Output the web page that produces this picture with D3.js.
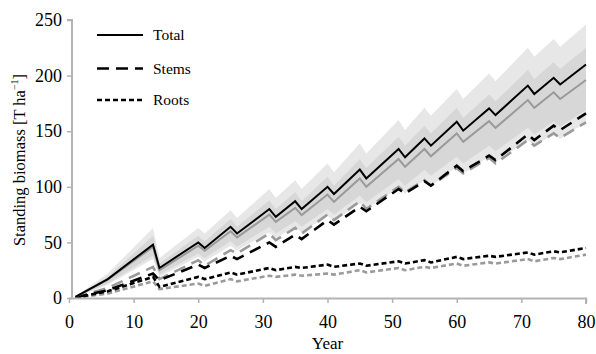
<!DOCTYPE html>
<html>
<head>
<meta charset="utf-8">
<script src="https://cdn.jsdelivr.net/npm/d3@7"></script>
<style>
  body { margin: 0; background: #fff; }
  text { font-family: "Liberation Serif", "Times New Roman", serif; }
</style>
</head>
<body>
<svg id="chart" width="596" height="354"></svg>
<script>
const years = [1, 6, 13, 14, 20, 21, 25, 26, 31, 32, 35, 36, 40, 41, 45, 46, 51, 52, 55, 56, 60, 61, 65, 66, 71, 72, 75, 76, 80];

const totalBlack = [1, 17, 48, 27, 50, 45, 64, 58, 80, 73, 87, 80, 100, 93.5, 115.5, 107.5, 134, 126.5, 143.5, 137, 158.5, 150.5, 170.5, 164.5, 191, 183.5, 198, 192, 210];
const totalGray = [1, 16.5, 46, 25, 47, 42.5, 60, 54.5, 75, 68.5, 81, 74.5, 93, 86.5, 107.5, 100, 125, 118, 134, 127.5, 148, 140.5, 159, 153, 178, 171, 185, 179, 196];
const stemsBlack = [0.5, 7, 22, 16, 30, 27, 38, 35, 50, 46, 57, 53, 70, 66, 82, 78, 98, 94, 105, 101, 119, 114, 128, 124, 147, 142, 155, 151, 166];
const stemsGray = [0.5, 9, 28, 17, 34, 29, 43, 40, 58, 52, 63, 58, 75, 70, 87, 80, 100, 95, 106, 101, 117, 112, 126, 121, 142, 137, 148, 144, 158];
const rootsBlack = [0.3, 6, 19, 10, 19, 17, 23, 21, 27, 25, 28, 27, 30, 28, 31, 29, 33, 31, 34, 32, 37, 35, 38, 37, 41, 39, 42, 41, 45];
const rootsGray = [0.3, 4, 15, 8, 13, 11, 17, 15, 20, 19, 21, 20, 22, 21, 25, 23, 27, 25, 28, 27, 31, 29, 32, 31, 35, 33, 36, 35, 39];

// uncertainty bands around the total
const outerHi = [1.5, 22, 63, 36, 63, 58, 79, 72, 98, 90, 106, 98, 121, 113, 139, 130, 160, 151, 171, 164, 188, 179, 202, 195, 225, 217, 233, 226, 246];
const innerHi = [1.2, 19, 56, 31, 56, 51, 71, 64, 88, 80, 95, 87, 109, 101, 125, 117, 145, 137, 155, 148, 171, 162, 183, 177, 205, 197, 212, 206, 225];
const innerLo = [0.8, 13, 38, 21, 40, 36, 51, 46, 64, 58, 69, 64, 80, 75, 92, 86, 107, 101, 115, 110, 127, 121, 137, 132, 153, 147, 159, 154, 169];
const outerLo = [0.7, 12, 35, 19, 37, 33, 47, 43, 59, 54, 64, 59, 74, 69, 85, 80, 99, 94, 106, 101, 118, 112, 127, 122, 142, 137, 147, 143, 158];

const xTicks = [0, 10, 20, 30, 40, 50, 60, 70, 80];
const yTicks = [0, 50, 100, 150, 200, 250];
const legendLabels = ['Total', 'Stems', 'Roots'];

const svg = d3.select('#chart');
const x = d3.scaleLinear().domain([0, 80]).range([69, 586]);
const y = d3.scaleLinear().domain([0, 250]).range([298, 20]);

function band(lo, hi) {
  return d3.area()
    .x((d, i) => x(years[i]))
    .y0((d, i) => y(lo[i]))
    .y1((d, i) => y(hi[i]))(years);
}

svg.append('path').attr('d', band(outerLo, outerHi)).attr('fill', '#e7e7e7');
svg.append('path').attr('d', band(innerLo, innerHi)).attr('fill', '#d7d7d7');

const line = d3.line().x((d, i) => x(years[i])).y((d) => y(d));

const series = [
  {data: rootsGray, color: '#9a9a9a', dash: '5,3'},
  {data: rootsBlack, color: '#000', dash: '5,3'},
  {data: stemsGray, color: '#9a9a9a', dash: '12,7'},
  {data: stemsBlack, color: '#000', dash: '12,7'},
  {data: totalGray, color: '#9a9a9a', dash: null},
  {data: totalBlack, color: '#000', dash: null}
];

series.forEach((s) => {
  svg.append('path')
    .attr('d', line(s.data))
    .attr('fill', 'none')
    .attr('stroke', s.color)
    .attr('stroke-width', s.dash ? 2.6 : 2)
    .attr('stroke-dasharray', s.dash);
});

// axes
const axisColor = '#b3b3b3';
const xAxis = svg.append('g').attr('transform', `translate(0,${y(0)})`)
  .call(d3.axisBottom(x).tickValues(xTicks).tickSize(5).tickPadding(12));
const yAxis = svg.append('g').attr('transform', `translate(${x(0) + 3},0)`)
  .call(d3.axisLeft(y).tickValues(yTicks).tickSize(5).tickPadding(5));

[xAxis, yAxis].forEach((g) => {
  g.select('.domain').attr('stroke', axisColor).attr('stroke-width', 2);
  g.selectAll('.tick line').attr('stroke', axisColor).attr('stroke-width', 1.5);
  g.selectAll('.tick text')
    .attr('fill', '#000')
    .style('font-family', '"Liberation Serif", serif')
    .style('font-size', '18px');
});
xAxis.select('.domain').attr('d', `M${x(0)},0.5H${x(80)}V6`);
yAxis.select('.domain').attr('d', `M-5,${y(250)}H0V${y(0)}`);

svg.append('text')
  .attr('x', x(40))
  .attr('y', 349)
  .attr('text-anchor', 'middle')
  .style('font-size', '17px')
  .text('Year');

const yTitle = svg.append('text')
  .attr('transform', `translate(25,160) rotate(-90)`)
  .attr('text-anchor', 'middle')
  .style('font-size', '16.5px');
yTitle.append('tspan').text('Standing biomass [T ha');
yTitle.append('tspan').attr('dy', -7).style('font-size', '10px').text('−1');
yTitle.append('tspan').attr('dy', 7).text(']');

// legend
const legendDash = [null, '12,7', '5,3'];
const legendY = [35, 68.5, 100];
legendLabels.forEach((lab, i) => {
  svg.append('line')
    .attr('x1', 97).attr('x2', 143)
    .attr('y1', legendY[i]).attr('y2', legendY[i])
    .attr('stroke', '#000')
    .attr('stroke-width', legendDash[i] ? 2.6 : 2)
    .attr('stroke-dasharray', legendDash[i]);
  svg.append('text')
    .attr('x', 153)
    .attr('y', legendY[i] + 5)
    .style('font-size', '15.5px')
    .text(lab);
});
</script>
</body>
</html>
